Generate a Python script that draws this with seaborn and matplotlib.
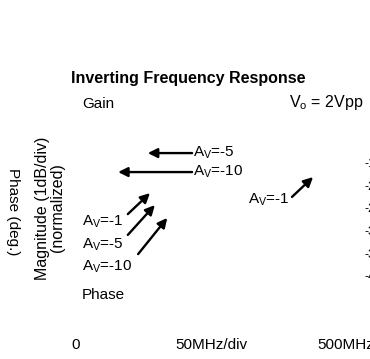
import matplotlib
matplotlib.use("Agg")
import matplotlib.pyplot as plt
import seaborn as sns

# x axis: 0 .. 500 MHz, 50 MHz per division
freq_ticks = [0, 250, 500]
freq_labels = ["0", "50MHz/div", "500MHz"]

# right-hand phase scale (cut off at the page edge in the scan)
phase_ticks = [-180, -225, -270, -315, -360, -405]
phase_labels = ["-180", "-225", "-270", "-315", "-360", "-405"]

# gain curve labels: text, (tail x MHz, tail dB), (tip x MHz, tip dB)
gain_labels = ["A$\\mathregular{_V}$=-5", "A$\\mathregular{_V}$=-10",
               "A$\\mathregular{_V}$=-1"]
gain_tails = [(215, -1.57), (215, -2.41), (400, -3.51)]
gain_tips = [(133, -1.57), (78, -2.41), (439, -2.63)]

# phase curve labels
phase_curve_labels = ["A$\\mathregular{_V}$=-1", "A$\\mathregular{_V}$=-5",
                      "A$\\mathregular{_V}$=-10"]
phase_tails = [(96, -4.27), (96, -5.19), (115, -6.04)]
phase_tips = [(137, -3.34), (146, -3.87), (169, -4.44)]

sns.set_style("white")
plt.rcParams["font.family"] = ["Liberation Sans", "DejaVu Sans"]
plt.rcParams["text.color"] = "black"
plt.rcParams["xtick.color"] = "black"
plt.rcParams["ytick.color"] = "black"

fig = plt.figure(figsize=(3.70, 3.59), dpi=100)
ax = fig.add_axes([76 / 370, 1 - 321 / 359, 270 / 370, 226 / 359])
ax.set_xlim(0, 500)
ax.set_ylim(-9, 1)
ax.set_yticks([])
ax.set_xticks(freq_ticks)
ax.set_xticklabels(freq_labels, fontsize=11)
ax.tick_params(axis="x", length=0, pad=12)
sns.despine(ax=ax, left=True, bottom=True)

ax2 = ax.twinx()
ax2.set_ylim(-495, -45)
ax2.set_yticks(phase_ticks)
ax2.set_yticklabels(phase_labels, fontsize=9)
ax2.tick_params(axis="y", length=0, pad=13)
for s in ax2.spines.values():
    s.set_visible(False)

arrow = dict(arrowstyle="-|>", color="black", lw=1.7, mutation_scale=14,
             shrinkA=0, shrinkB=0)

# gain arrows: label sits at the tail end
for i in range(2):
    ax.annotate("", xy=gain_tips[i], xytext=gain_tails[i], arrowprops=arrow)
    ax.text(gain_tails[i][0] + 2, gain_tails[i][1], gain_labels[i],
            fontsize=11, ha="left", va="center")
ax.annotate("", xy=gain_tips[2], xytext=gain_tails[2], arrowprops=arrow)
ax.text(gain_tails[2][0] - 4, gain_tails[2][1] - 0.12, gain_labels[2],
        fontsize=11, ha="right", va="center")

# phase arrows with the labels stacked on the left
label_y = [-4.62, -5.64, -6.61]
for i in range(3):
    ax.annotate("", xy=phase_tips[i], xytext=phase_tails[i], arrowprops=arrow)
    ax.text(11, label_y[i], phase_curve_labels[i], fontsize=11,
            ha="left", va="center")

ax.text(11, 0.6, "Gain", fontsize=11, ha="left", va="center")
ax.text(11, -7.85, "Phase", fontsize=11, ha="left", va="center")

fig.text(363 / 370, 1 - 103 / 359, "V$\\mathregular{_o}$ = 2Vpp",
         fontsize=11.5, ha="right", va="center")
fig.text(188 / 370, 1 - 79 / 359, "Inverting Frequency Response",
         fontsize=11.5, fontweight="bold", ha="center", va="center")
fig.text(50 / 370, 1 - 208 / 359, "Magnitude (1dB/div)\n(normalized)",
         fontsize=11.5, rotation=90, ha="center", va="center",
         multialignment="center", linespacing=1.0)
fig.text(13 / 370, 1 - 212 / 359, "Phase (deg.)", fontsize=11,
         rotation=270, ha="center", va="center")

fig.savefig("out.png", dpi=100)
